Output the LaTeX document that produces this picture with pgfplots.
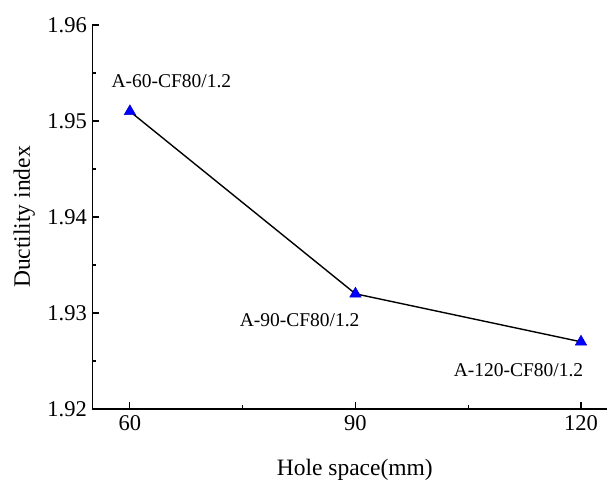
\documentclass[border=0pt]{standalone}
\usepackage{fontspec}
\setmainfont{Liberation Serif}
\usepackage{pgfplots}
\pgfplotsset{compat=1.18}

\begin{document}
\begin{tikzpicture}
\begin{axis}[
  scale only axis,
  width=515pt, height=384pt,
  xmin=55, xmax=123.5,
  ymin=1.92, ymax=1.96,
  axis x line*=bottom, axis y line*=left,
  axis line style={line width=1.2pt},
  xtick={60,90,120},
  ytick={1.92,1.93,1.94,1.95,1.96},
  minor x tick num=1, minor y tick num=1,
  tick align=inside,
  major tick length=7pt, minor tick length=4pt,
  tick style={line width=1.1pt, black},
  font=\fontsize{22.5}{26}\selectfont,
  /pgf/number format/assume math mode=true,
  yticklabel style={/pgf/number format/fixed, /pgf/number format/fixed zerofill,
    /pgf/number format/precision=2, xshift=-2pt},
  xticklabel style={yshift=-3pt},
  xlabel={Hole space(mm)},
  ylabel={Ductility index},
  every axis x label/.style={at={(axis description cs:0.5,0)}, xshift=5pt, yshift=-61pt, anchor=center, font=\fontsize{23.5}{27}\selectfont},
  every axis y label/.style={at={(axis description cs:0,0.5)}, xshift=-68pt, rotate=90, anchor=center, font=\fontsize{23.5}{27}\selectfont},
  clip=false,
]
\addplot[black, line width=1.4pt, mark=triangle*, mark size=6.5pt,
  mark options={fill=blue, draw=blue!80!black, line width=0.6pt}]
  coordinates {(60,1.951) (90,1.932) (120,1.927)};
\begin{scope}[every node/.style={font=\fontsize{19.5}{22}\selectfont, anchor=center}]
\node[xshift=41.5pt, yshift=30.4pt] at (axis cs:60,1.951) {A-60-CF80/1.2};
\node[xshift=-55.8pt, yshift=-26pt] at (axis cs:90,1.932) {A-90-CF80/1.2};
\node[xshift=-62.5pt, yshift=-28pt] at (axis cs:120,1.927) {A-120-CF80/1.2};
\end{scope}
\end{axis}
\pgfresetboundingbox
\path ([shift={(-92.3pt,-73pt)}]current axis.south west) rectangle ([shift={(516.7pt,409pt)}]current axis.south west);
\end{tikzpicture}
\end{document}
